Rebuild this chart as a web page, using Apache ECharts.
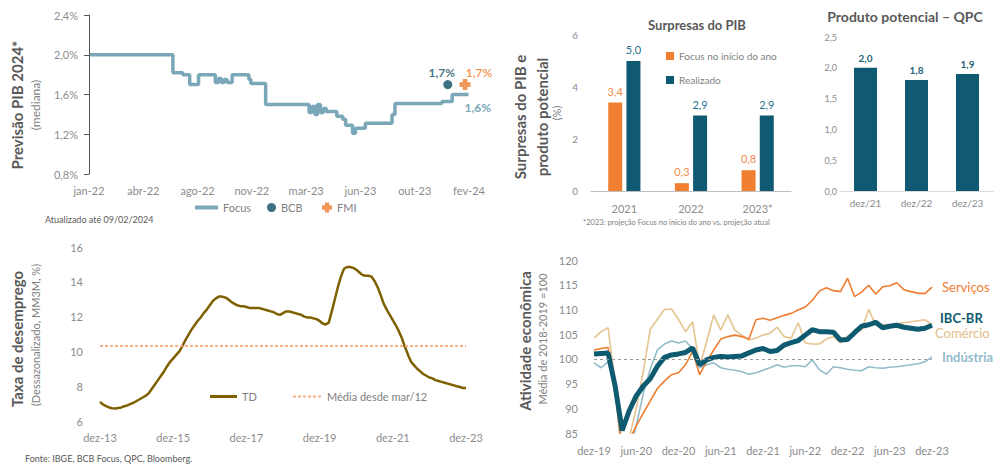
<!DOCTYPE html>
<html><head><meta charset="utf-8">
<script src="https://cdn.jsdelivr.net/npm/echarts@6/dist/echarts.min.js"></script>
<style>html,body{margin:0;padding:0;background:#fff}#c{width:1003px;height:465px}</style>
</head><body><div id="c"></div>
<script>
// ---------- Panel 1: Previsão PIB 2024 (Focus) ----------
const focusDates = ['2022-01-03','2022-06-20','2022-07-10','2022-07-24','2022-08-11','2022-09-14','2022-09-20','2022-09-26','2022-10-02','2022-10-08','2022-10-18','2022-11-21','2022-11-25','2022-12-25','2023-03-23','2023-03-29','2023-04-04','2023-04-09','2023-04-15','2023-04-21','2023-04-27','2023-05-18','2023-05-30','2023-06-05','2023-06-19','2023-06-25','2023-07-15','2023-09-07','2023-09-13','2023-12-17','2024-01-07','2024-02-09'];
const focusValues = [2.0,1.82,1.80,1.70,1.80,1.72,1.76,1.72,1.75,1.72,1.80,1.75,1.71,1.50,1.42,1.48,1.40,1.50,1.42,1.46,1.43,1.38,1.35,1.29,1.21,1.26,1.31,1.40,1.51,1.53,1.60,1.60];
const bcbDate = '2023-12-29', bcbValue = 1.7;
const fmiDate = '2024-02-02', fmiValue = 1.7;
const pibTickLabels = ['jan-22','abr-22','ago-22','nov-22','mar-23','jun-23','out-23','fev-24'];

// ---------- Panel 2: Surpresas do PIB ----------
const surpCategories = ['2021','2022','2023*'];
const focusInicio = [3.4, 0.3, 0.8];
const realizado = [5.0, 2.9, 2.9];

// ---------- Panel 3: Produto potencial – QPC ----------
const qpcCategories = ['dez/21','dez/22','dez/23'];
const qpcValues = [2.0, 1.8, 1.9];

// ---------- Panel 4: Taxa de desemprego ----------
const tdStartYear = 2013, tdStartMonth = 11; // dez-13
const tdValues = [7.1,6.95,6.85,6.78,6.73,6.72,6.75,6.78,6.85,6.9,
6.98,7.05,7.15,7.25,7.35,7.45,7.6,7.85,8.1,8.35,
8.6,8.85,9.15,9.4,9.6,9.8,10.0,10.3,10.65,10.95,
11.25,11.5,11.75,11.95,12.2,12.4,12.65,12.9,13.05,13.15,
13.15,13.1,13.0,12.85,12.75,12.65,12.6,12.6,12.55,12.5,
12.5,12.5,12.5,12.45,12.4,12.35,12.3,12.25,12.15,12.1,
12.2,12.3,12.3,12.25,12.2,12.15,12.1,12.0,11.95,11.95,
11.9,11.85,11.75,11.6,11.55,11.65,12.3,13.0,13.7,14.3,
14.75,14.85,14.85,14.8,14.7,14.55,14.4,14.35,14.35,14.3,
14.05,13.7,13.25,12.75,12.4,12.1,11.8,11.5,11.15,10.75,
10.25,9.8,9.4,9.2,9.0,8.85,8.7,8.6,8.5,8.45,
8.35,8.3,8.25,8.2,8.15,8.1,8.05,8.0,7.95,7.9,7.9];
const tdMean = 10.3;

// ---------- Panel 5: Atividade econômica ----------
const atvStartYear = 2019, atvStartMonth = 11; // dez-19
const servicos = [101.8,102.1,102.3,93.5,81,83.5,86.5,89,91.5,94,
95.5,96.8,97.2,98.8,101.5,96.8,99.5,101.8,104,104.5,
104.8,104.5,104.0,107.9,108.2,107.8,108.3,108.8,109.2,109.9,
110.5,111.8,113.7,114.4,113.8,113.6,116.3,112.6,113.5,114.9,
113.1,114.6,114.8,115.4,114.0,113.6,113.3,113.2,114.5];
const comercio = [104.2,105.5,106.3,95,82.5,84,90,97.5,106,108,
110,110.1,108,105.5,107.5,98.5,103.5,108.9,105.8,108.9,
105.8,104.8,103.8,104.2,104.8,105.2,106.4,104.5,104.2,107.3,
103.2,103.0,103.0,104.0,104.5,103.3,104.6,105.4,105.8,110.0,
106.9,106.9,106.9,107.1,107.3,107.5,107.7,107.9,106.9];
const industria = [99.2,98.2,99.4,94,80,81,86.5,93,98,101.8,
103.0,103.6,103.2,103.6,102.0,98.2,98.8,99.2,98.2,97.9,
97.7,97.4,96.9,97.2,97.7,98.2,98.8,98.3,98.6,98.6,
98.4,99.8,97.8,96.9,98.4,98.2,97.9,97.7,97.6,98.4,
98.2,98.1,98.3,98.4,98.6,98.8,99.0,99.4,100.4];
const ibcbr = [101.0,101.1,101.2,94.5,85.5,89.5,92.5,94.5,96,98.5,
100.3,100.8,101.0,101.3,102.2,98.8,99.8,100.3,100.5,100.4,
100.5,100.6,101.2,101.8,102.1,101.5,101.7,102.8,103.3,103.7,
104.8,105.9,105.5,105.5,105.4,103.8,103.9,105.3,106.6,106.9,
107.4,106.3,106.6,106.8,106.4,106.2,106.0,106.2,106.8];
const atvBase = 100;

// ---------- helpers ----------
const monthNames = ['jan','fev','mar','abr','mai','jun','jul','ago','set','out','nov','dez'];
function monthCats(y, m, n){ const out=[]; for(let i=0;i<n;i++){ const mm=(m+i)%12, yy=y+Math.floor((m+i)/12); out.push(monthNames[mm]+'-'+String(yy).slice(2)); } return out; }
const day0 = Date.UTC(2022,0,1);
function dayOf(s){ const p=s.split('-').map(Number); return (Date.UTC(p[0],p[1]-1,p[2])-day0)/86400000; }
const comma = (v,d) => v.toFixed(d).replace('.', ',');

const FONT = 'Lato';
const AX = '#8c8c8c';
const TITLE = '#595959';
const LEG = '#7f7f7f';
const dottedIcon = 'path://M0,0h3v2h-3z M5,0h3v2h-3z M10,0h3v2h-3z M15,0h3v2h-3z M20,0h3v2h-3z M25,0h3v2h-3z';

const chart = echarts.init(document.getElementById('c'), null, {renderer:'svg'});

function vtext(x, y, text, font, fill){
  return {type:'text', x:x, y:y, rotation:Math.PI/2,
    style:{text:text, font:font, fill:fill, align:'center', verticalAlign:'middle', textAlign:'center', textVerticalAlign:'middle'}};
}
function htext(x, y, text, font, fill, align){
  return {type:'text', x:x, y:y,
    style:{text:text, font:font, fill:fill, align:align||'left', verticalAlign:'middle', textAlign:align||'left', textVerticalAlign:'middle'}};
}

const option = {
  animation:false,
  textStyle:{fontFamily:FONT},
  grid:[
    {left:89, top:15, width:380, height:159},
    {left:591, top:35, width:200, height:156},
    {left:840, top:37, width:153, height:154},
    {left:100, top:247, width:366, height:174},
    {left:594, top:260, width:338, height:173}
  ],
  xAxis:[
    {gridIndex:0, type:'value', min:0, max:770, interval:110,
      axisLine:{show:false}, axisTick:{show:false}, splitLine:{show:false},
      axisLabel:{color:AX, fontSize:11, margin:11, formatter:v=>pibTickLabels[Math.round(v/110)]||''}},
    {gridIndex:1, type:'category', data:surpCategories,
      axisLine:{lineStyle:{color:'#bfbfbf'}}, axisTick:{show:false},
      axisLabel:{color:AX, fontSize:11, margin:12}},
    {gridIndex:2, type:'category', data:qpcCategories,
      axisLine:{lineStyle:{color:'#d9d9d9'}}, axisTick:{show:false},
      axisLabel:{color:AX, fontSize:10, margin:7}},
    {gridIndex:3, type:'category', boundaryGap:false, data:monthCats(tdStartYear, tdStartMonth, tdValues.length),
      axisLine:{show:false}, axisTick:{show:false},
      axisLabel:{color:AX, fontSize:11, margin:11, interval:23}},
    {gridIndex:4, type:'category', boundaryGap:false, data:monthCats(atvStartYear, atvStartMonth, ibcbr.length),
      axisLine:{show:false}, axisTick:{show:false},
      axisLabel:{color:AX, fontSize:11, margin:12, interval:5}}
  ],
  yAxis:[
    {gridIndex:0, type:'value', min:0.8, max:2.4, interval:0.4, splitLine:{show:false},
      axisLabel:{color:AX, fontSize:11, margin:11, formatter:v=>comma(v,1)+'%'}},
    {gridIndex:1, type:'value', min:0, max:6, interval:2, splitLine:{show:false},
      axisLabel:{color:AX, fontSize:10, margin:13}},
    {gridIndex:2, type:'value', min:0, max:2.5, interval:0.5, splitLine:{show:false},
      axisLabel:{color:AX, fontSize:9, margin:3, formatter:v=>comma(v,1)}},
    {gridIndex:3, type:'value', min:6, max:16, interval:2, splitLine:{show:false},
      axisLabel:{color:AX, fontSize:11, margin:17}},
    {gridIndex:4, type:'value', min:85, max:120, interval:5, splitLine:{show:false},
      axisLabel:{color:AX, fontSize:11, margin:16}}
  ],
  legend:[
    {data:[{name:'Focus', icon:'rect'}], left:190, top:197, itemWidth:23, itemHeight:4, textStyle:{color:LEG, fontSize:11}},
    {data:['BCB'], left:262, top:197, itemWidth:9, itemHeight:9, textStyle:{color:LEG, fontSize:11}},
    {data:['FMI'], left:317, top:197, itemWidth:10, itemHeight:10, textStyle:{color:LEG, fontSize:11}},
    {data:[{name:'Focus no início do ano', icon:'rect'},{name:'Realizado', icon:'rect'}], orient:'vertical', left:661, top:46, itemWidth:8, itemHeight:8, itemGap:14,
      textStyle:{color:LEG, fontSize:10}},
    {data:[{name:'TD', icon:'rect'}], left:205, top:386, itemWidth:27, itemHeight:3, textStyle:{color:LEG, fontSize:11}},
    {data:[{name:'Média desde mar/12', icon:dottedIcon}], left:288, top:386, itemWidth:30, itemHeight:2, textStyle:{color:LEG, fontSize:11}}
  ],
  graphic:[
    vtext(17, 105, 'Previsão PIB 2024*', 'bold 15px '+FONT, TITLE),
    vtext(35, 105, '(mediana)', '12px '+FONT, LEG),
    htext(45, 219, 'Atualizado até 09/02/2024', '9px '+FONT, TITLE),
    htext(697, 25, 'Surpresas do PIB', 'bold 13px '+FONT, TITLE, 'center'),
    vtext(520, 117, 'Surpresas do PIB e', 'bold 15px '+FONT, TITLE),
    vtext(542, 117, 'produto potencial', 'bold 15px '+FONT, TITLE),
    vtext(556, 113, '(%)', '11px '+FONT, LEG),
    htext(583, 222, '*2023: projeção Focus no início do ano vs. projeção atual', '7.5px '+FONT, LEG),
    htext(905, 16, 'Produto potencial – QPC', 'bold 14px '+FONT, TITLE, 'center'),
    vtext(17, 339, 'Taxa de desemprego', 'bold 15px '+FONT, TITLE),
    vtext(35, 335, '(Dessazonalizado, MM3M, %)', '11px '+FONT, LEG),
    htext(25, 458, 'Fonte: IBGE, BCB Focus, QPC, Bloomberg.', '9px '+FONT, TITLE),
    vtext(525, 341, 'Atividade econômica', 'bold 15px '+FONT, TITLE),
    vtext(542, 339, 'Média de 2018-2019 =100', '11px '+FONT, LEG)
  ],
  series:[
    {name:'Focus', type:'line', xAxisIndex:0, yAxisIndex:0, step:'end', symbol:'none',
      data:focusDates.map((d,i)=>[dayOf(d), focusValues[i]]),
      lineStyle:{color:'#7aa8b8', width:3.5}, itemStyle:{color:'#7aa8b8'},
      endLabel:{show:true, distance:0, offset:[-4,13], color:'#7aa8b8', fontWeight:'bold', fontSize:12,
        formatter:p=>comma(p.value[1],1)+'%'}},
    {name:'BCB', type:'scatter', xAxisIndex:0, yAxisIndex:0, symbol:'circle', symbolSize:9,
      data:[[dayOf(bcbDate), bcbValue]], itemStyle:{color:'#0e4d64'},
      label:{show:true, position:'top', distance:2, offset:[-6,0], color:'#0e4d64', fontWeight:'bold', fontSize:12,
        formatter:p=>comma(p.value[1],1)+'%'}},
    {name:'FMI', type:'scatter', xAxisIndex:0, yAxisIndex:0,
      symbol:'path://M-1.3,-3 L1.3,-3 L1.3,-1.3 L3,-1.3 L3,1.3 L1.3,1.3 L1.3,3 L-1.3,3 L-1.3,1.3 L-3,1.3 L-3,-1.3 L-1.3,-1.3 Z', symbolSize:11,
      data:[[dayOf(fmiDate), fmiValue]], itemStyle:{color:'#ef7d31'},
      label:{show:true, position:'top', distance:1, offset:[14,0], color:'#ef7d31', fontWeight:'bold', fontSize:12,
        formatter:p=>comma(p.value[1],1)+'%'}},

    {name:'Focus no início do ano', type:'bar', xAxisIndex:1, yAxisIndex:1, data:focusInicio, barWidth:14, barGap:'30%',
      itemStyle:{color:'#f07f32'},
      label:{show:true, position:'top', distance:6, color:'#f08a4b', fontSize:11, formatter:p=>comma(p.value,1)}},
    {name:'Realizado', type:'bar', xAxisIndex:1, yAxisIndex:1, data:realizado, barWidth:14, barGap:'30%',
      itemStyle:{color:'#0f5a72'},
      label:{show:true, position:'top', distance:6, color:'#1f6f8c', fontSize:11, formatter:p=>comma(p.value,1)}},

    {name:'QPC', type:'bar', xAxisIndex:2, yAxisIndex:2, data:qpcValues, barWidth:23,
      itemStyle:{color:'#0f5a72'},
      label:{show:true, position:'top', distance:5, color:'#1f5f75', fontSize:10, fontWeight:'bold', formatter:p=>comma(p.value,1)}},

    {name:'TD', type:'line', xAxisIndex:3, yAxisIndex:3, data:tdValues, symbol:'none',
      lineStyle:{color:'#7f6000', width:2.5}, itemStyle:{color:'#7f6000'}},
    {name:'Média desde mar/12', type:'line', xAxisIndex:3, yAxisIndex:3, data:[], symbol:'none',
      lineStyle:{color:'#f4b183', width:2, type:[3,2]}, itemStyle:{color:'#f4b183'},
      markLine:{silent:true, symbol:'none', label:{show:false},
        lineStyle:{color:'#f4b183', width:2, type:[3,2]}, data:[{yAxis:tdMean}]}},

    {name:'Comércio', type:'line', xAxisIndex:4, yAxisIndex:4, data:comercio, symbol:'none',
      lineStyle:{color:'#e4c48f', width:1.6}, itemStyle:{color:'#e4c48f'},
      markLine:{silent:true, symbol:'none', label:{show:false},
        lineStyle:{color:'#9a9a9a', width:1, type:[3,3]}, data:[{yAxis:atvBase}]},
      endLabel:{show:true, distance:3, offset:[0,8], color:'#e0bd86', fontSize:13, formatter:'{a}'}},
    {name:'Indústria', type:'line', xAxisIndex:4, yAxisIndex:4, data:industria, symbol:'none',
      lineStyle:{color:'#93bccb', width:1.6}, itemStyle:{color:'#93bccb'},
      endLabel:{show:true, distance:10, color:'#93bccb', fontSize:13, fontWeight:'bold', formatter:'{a}'}},
    {name:'Serviços', type:'line', xAxisIndex:4, yAxisIndex:4, data:servicos, symbol:'none',
      lineStyle:{color:'#ef7d31', width:1.6}, itemStyle:{color:'#ef7d31'},
      endLabel:{show:true, distance:10, color:'#ef7d31', fontSize:13, formatter:'{a}'}},
    {name:'IBC-BR', type:'line', xAxisIndex:4, yAxisIndex:4, data:ibcbr, symbol:'none',
      lineStyle:{color:'#0d5a71', width:5}, itemStyle:{color:'#0d5a71'},
      endLabel:{show:true, distance:8, offset:[0,-7], color:'#0d5a71', fontSize:13, fontWeight:'bold', formatter:'{a}'}}
  ]
};
chart.setOption(option);
</script>
</body></html>
